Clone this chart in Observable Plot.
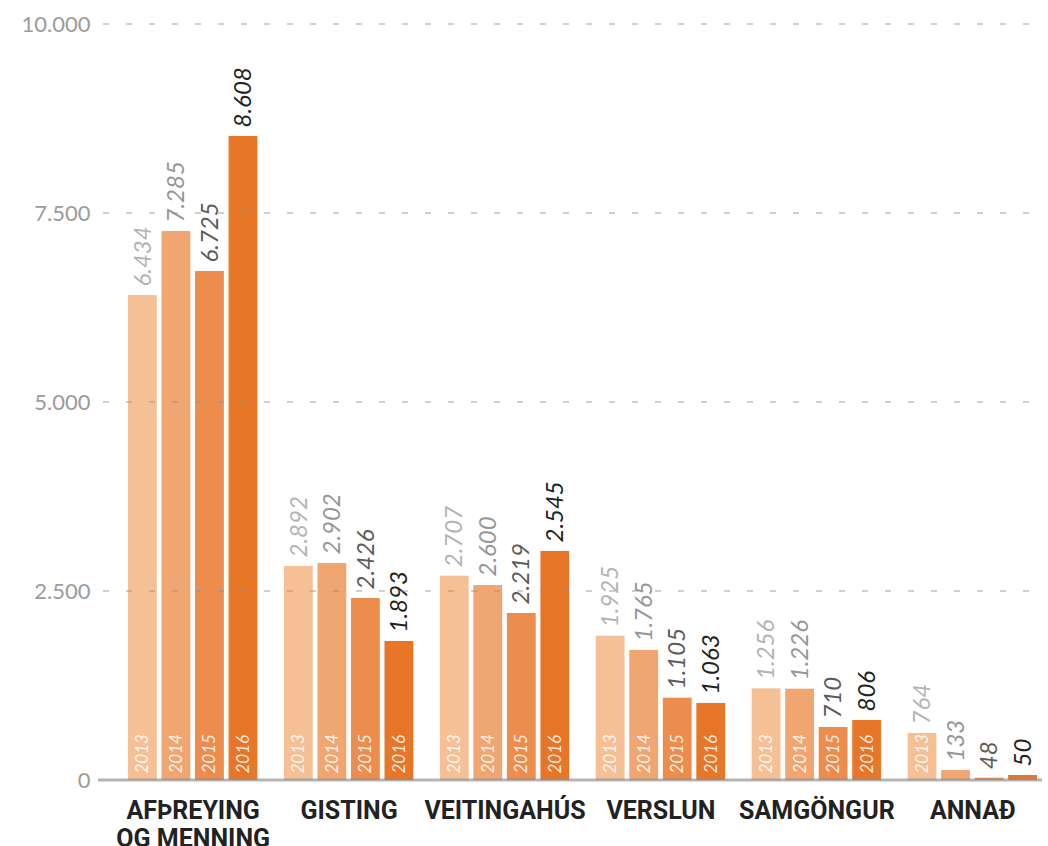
<!DOCTYPE html>
<html>
<head>
<meta charset="utf-8">
<script src="https://cdn.jsdelivr.net/npm/d3@7"></script>
<script src="https://cdn.jsdelivr.net/npm/@observablehq/plot@0.6"></script>
<style>
  html, body { margin: 0; padding: 0; background: #fff; }
  #chart { width: 1048px; height: 846px; overflow: hidden; }
</style>
</head>
<body>
<div id="chart"></div>
<script>
// ---- data ----
const categories = ["AFÞREYING\nOG MENNING", "GISTING", "VEITINGAHÚS", "VERSLUN", "SAMGÖNGUR", "ANNAÐ"];
const years = ["2013", "2014", "2015", "2016"];

// bar heights as drawn
const values2013 = [6415, 2831, 2702, 1909, 1213, 622];
const values2014 = [7262, 2870, 2579, 1720, 1208, 132];
const values2015 = [6733, 2407, 2209, 1089, 701, 30];
const values2016 = [8519, 1839, 3029, 1019, 794, 66];

// printed value labels
const labels2013 = ["6.434", "2.892", "2.707", "1.925", "1.256", "764"];
const labels2014 = ["7.285", "2.902", "2.600", "1.765", "1.226", "133"];
const labels2015 = ["6.725", "2.426", "2.219", "1.105", "710", "48"];
const labels2016 = ["8.608", "1.893", "2.545", "1.063", "806", "50"];

const yTicks = [0, 2500, 5000, 7500, 10000];
const yTickLabels = ["0", "2.500", "5.000", "7.500", "10.000"];

const barColors = ["#f6c096", "#f0a671", "#ec8d4e", "#e87629"];
const labelColors = ["#b4b4b4", "#969696", "#5c5c5c", "#222222"];

// ---- build table ----
const valueSeries = [values2013, values2014, values2015, values2016];
const labelSeries = [labels2013, labels2014, labels2015, labels2016];
const rows = [];
categories.forEach((cat, i) => {
  years.forEach((yr, j) => {
    rows.push({cat, year: yr, value: valueSeries[j][i], label: labelSeries[j][i]});
  });
});

const valueLabelMarks = years.map((yr, j) =>
  Plot.text(rows.filter(d => d.year === yr), {
    fx: "cat", x: "year", y: "value", text: "label",
    rotate: -90, textAnchor: "start", lineAnchor: "middle",
    dy: -9, fill: labelColors[j], fontSize: 24, fontStyle: "italic",
    fontFamily: "Lato, sans-serif"
  })
);

const plot = Plot.plot({
  width: 1048,
  height: 846,
  marginTop: 24,
  marginBottom: 66,
  marginLeft: 128,
  marginRight: 11,
  style: {fontFamily: "Lato, sans-serif", fontSize: "22px", color: "#9b9b9b", background: "transparent"},
  fx: {domain: categories, paddingInner: 0.17, paddingOuter: 0, round: false, axis: null, label: null},
  x: {domain: years, paddingInner: 0.14, paddingOuter: 0, round: false, axis: null, label: null},
  y: {
    domain: [0, 10000], ticks: yTicks,
    tickFormat: d => yTickLabels[yTicks.indexOf(d)],
    tickSize: 0, tickPadding: 38, label: null
  },
  color: {domain: years, range: barColors},
  marks: [
    Plot.barY(rows, {fx: "cat", x: "year", y: "value", fill: "year"}),
    Plot.text(rows.filter(d => d.value > 400), {
      fx: "cat", x: "year", y: 0, text: "year",
      rotate: -90, textAnchor: "start", lineAnchor: "middle",
      dy: -7, fill: "white", fillOpacity: 0.85, fontSize: 17, fontStyle: "italic",
      fontFamily: "Lato, sans-serif"
    }),
    ...valueLabelMarks,
    Plot.text(categories, {
      fx: d => d, text: d => d, frameAnchor: "bottom", lineAnchor: "top",
      dy: 19, fontSize: 25, fontWeight: 700, fontFamily: "Roboto, sans-serif",
      fill: "#222", lineHeight: 1.12
    })
  ]
});

document.getElementById("chart").appendChild(plot);

// gridlines and baseline spanning the full plot width, positioned with Plot's y scale
const yScale = plot.scale("y");
const svg = d3.select(plot.tagName.toLowerCase() === "svg" ? plot : plot.querySelector("svg"));
const gg = svg.append("g").attr("aria-label", "grid");
gg.selectAll("line")
  .data(yTicks.filter(t => t > 0))
  .join("line")
  .attr("x1", 103).attr("x2", 1042)
  .attr("y1", d => yScale.apply(d)).attr("y2", d => yScale.apply(d))
  .attr("stroke", "#8f8f8f").attr("stroke-opacity", 0.42)
  .attr("stroke-width", 2).attr("stroke-dasharray", "6,17");
gg.append("line")
  .attr("x1", 98).attr("x2", 1042)
  .attr("y1", yScale.apply(0)).attr("y2", yScale.apply(0))
  .attr("stroke", "#8c8c8c").attr("stroke-opacity", 0.65)
  .attr("stroke-width", 3);
</script>
</body>
</html>
